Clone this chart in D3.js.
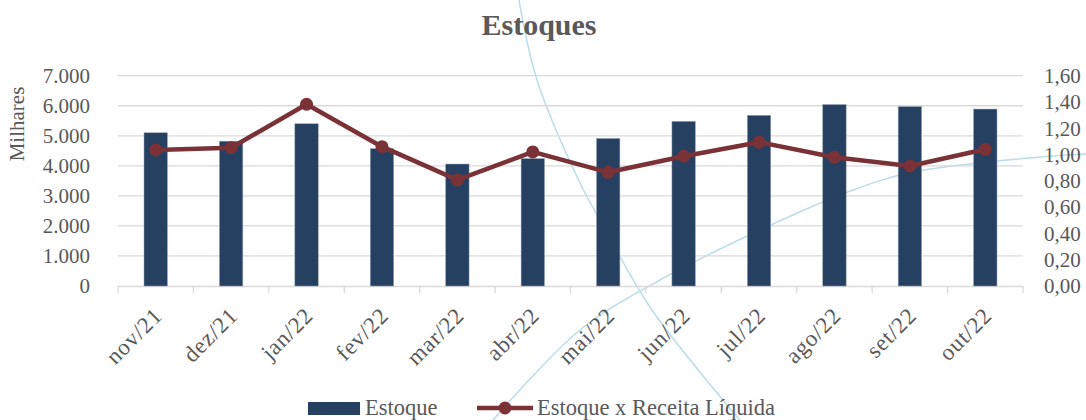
<!DOCTYPE html>
<html>
<head>
<meta charset="utf-8">
<script src="https://cdn.jsdelivr.net/npm/d3@7"></script>
<style>
  body { margin: 0; background: #fff; }
  svg text { font-family: "Liberation Serif", "DejaVu Serif", serif; fill: #595959; }
</style>
</head>
<body>
<svg id="chart" width="1086" height="420"></svg>
<script>
// chart data
var months = ["nov/21", "dez/21", "jan/22", "fev/22", "mar/22", "abr/22",
              "mai/22", "jun/22", "jul/22", "ago/22", "set/22", "out/22"];
var estoque = [5100, 4820, 5400, 4570, 4060, 4240, 4910, 5480, 5680, 6040, 5970, 5890];
var estoqueReceita = [1.035, 1.052, 1.383, 1.060, 0.807, 1.020, 0.865, 0.987, 1.094, 0.979, 0.913, 1.040];
var leftTicks = [0, 1000, 2000, 3000, 4000, 5000, 6000, 7000];
var rightTicks = [0, 0.2, 0.4, 0.6, 0.8, 1.0, 1.2, 1.4, 1.6];

var svg = d3.select("#chart");
var plot = {left: 118, right: 1023, top: 75.7, bottom: 286};

var barColor = "#264062", lineColor = "#7B3236", gridColor = "#D9D9D9";

// background decoration (light blue swooshes behind the chart)
var decoA = [[519, 0], [537, 80], [580, 183], [600, 220], [652, 310], [740, 420]];
var decoB = [[493, 420], [580, 330], [660, 280], [760, 230], [853, 190], [913, 172], [1040, 157], [1086, 154]];
var decoLine = d3.line().curve(d3.curveCatmullRom);
svg.append("g").selectAll("path")
    .data([decoA, decoB])
    .enter().append("path")
    .attr("d", decoLine)
    .attr("fill", "none")
    .attr("stroke", "#BBDCE8")
    .attr("stroke-width", 1.5);

var x = d3.scaleBand().domain(months).range([plot.left, plot.right]);
var yL = d3.scaleLinear().domain([0, 7000]).range([plot.bottom, plot.top]);
var yR = d3.scaleLinear().domain([0, 1.6]).range([plot.bottom, plot.top]);
var barW = x.bandwidth() * 0.31;

// title
svg.append("text")
    .attr("x", 539).attr("y", 35)
    .attr("text-anchor", "middle")
    .style("font-size", "30px")
    .style("font-weight", "bold")
    .text("Estoques");

// gridlines
svg.append("g").selectAll("line")
    .data(leftTicks.filter(function (d) { return d > 0; }))
    .enter().append("line")
    .attr("x1", plot.left).attr("x2", plot.right)
    .attr("y1", function (d) { return yL(d); })
    .attr("y2", function (d) { return yL(d); })
    .attr("stroke", gridColor).attr("stroke-width", 1.3);

// pt-BR number formats
var fmtL = d3.formatLocale({decimal: ",", thousands: ".", grouping: [3], currency: ["R$", ""]});
var fmtThousands = fmtL.format(",.0f");
var fmtDec = fmtL.format(".2f");

// left axis labels
svg.append("g").selectAll("text")
    .data(leftTicks)
    .enter().append("text")
    .attr("x", 90)
    .attr("y", function (d) { return yL(d); })
    .attr("dy", "0.35em")
    .attr("text-anchor", "end")
    .style("font-size", "21px")
    .text(function (d) { return fmtThousands(d); });

svg.append("text")
    .attr("transform", "translate(24,124) rotate(-90)")
    .attr("text-anchor", "middle")
    .style("font-size", "21px")
    .text("Milhares");

// right axis labels
svg.append("g").selectAll("text")
    .data(rightTicks)
    .enter().append("text")
    .attr("x", 1044)
    .attr("y", function (d) { return yR(d); })
    .attr("dy", "0.35em")
    .style("font-size", "21px")
    .text(function (d) { return fmtDec(d); });

// x axis line with ticks between categories
var xAxis = svg.append("g");
xAxis.append("line")
    .attr("x1", plot.left).attr("x2", plot.right)
    .attr("y1", plot.bottom + 0.5).attr("y2", plot.bottom + 0.5)
    .attr("stroke", gridColor).attr("stroke-width", 1.3);
xAxis.selectAll("line.tick")
    .data(months.concat(["end"]))
    .enter().append("line")
    .attr("class", "tick")
    .attr("x1", function (d, i) { return i < months.length ? x(d) : plot.right; })
    .attr("x2", function (d, i) { return i < months.length ? x(d) : plot.right; })
    .attr("y1", plot.bottom).attr("y2", plot.bottom + 7)
    .attr("stroke", gridColor).attr("stroke-width", 1.3);

xAxis.selectAll("text")
    .data(months)
    .enter().append("text")
    .attr("transform", function (d) {
      var cx = x(d) + x.bandwidth() / 2;
      return "translate(" + (cx + 8) + ",317) rotate(-45)";
    })
    .attr("text-anchor", "end")
    .style("font-size", "23px")
    .style("letter-spacing", "0.8px")
    .text(function (d) { return d; });

// bars
svg.append("g").selectAll("rect")
    .data(estoque)
    .enter().append("rect")
    .attr("x", function (d, i) { return x(months[i]) + (x.bandwidth() - barW) / 2; })
    .attr("y", function (d) { return yL(d); })
    .attr("width", barW)
    .attr("height", function (d) { return plot.bottom - yL(d); })
    .attr("fill", barColor)
    .attr("stroke", "#8FA0B8").attr("stroke-width", 0.5);

// line + markers
var line = d3.line()
    .x(function (d, i) { return x(months[i]) + x.bandwidth() / 2; })
    .y(function (d) { return yR(d); });

svg.append("path")
    .datum(estoqueReceita)
    .attr("d", line)
    .attr("fill", "none")
    .attr("stroke", lineColor)
    .attr("stroke-width", 4.5)
    .attr("stroke-linejoin", "round");

svg.append("g").selectAll("circle")
    .data(estoqueReceita)
    .enter().append("circle")
    .attr("cx", function (d, i) { return x(months[i]) + x.bandwidth() / 2; })
    .attr("cy", function (d) { return yR(d); })
    .attr("r", 6.5)
    .attr("fill", lineColor);

// legend
var legend = svg.append("g");
legend.append("rect")
    .attr("x", 308).attr("y", 402).attr("width", 52).attr("height", 13)
    .attr("fill", barColor);
legend.append("text")
    .attr("x", 365).attr("y", 415)
    .style("font-size", "22.5px")
    .text("Estoque");
legend.append("line")
    .attr("x1", 477).attr("x2", 533).attr("y1", 408).attr("y2", 408)
    .attr("stroke", lineColor).attr("stroke-width", 4.5);
legend.append("circle")
    .attr("cx", 505).attr("cy", 408).attr("r", 6.5)
    .attr("fill", lineColor);
legend.append("text")
    .attr("x", 537).attr("y", 415)
    .style("font-size", "22.5px")
    .text("Estoque x Receita Líquida");
</script>
</body>
</html>
